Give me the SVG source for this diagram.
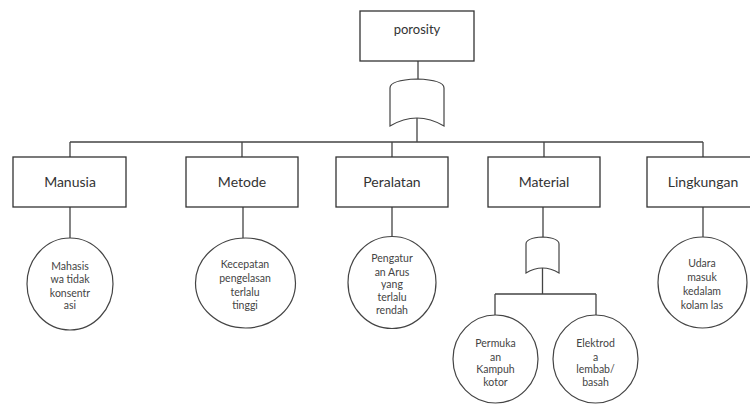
<svg xmlns="http://www.w3.org/2000/svg" width="750" height="405" viewBox="0 0 750 405">
<style>
.box{fill:#fff;stroke:#333;stroke-width:1.3}
.ell{fill:#fff;stroke:#444;stroke-width:1.2}
.gate{fill:#fff;stroke:#444;stroke-width:1.2}
.ln{fill:none;stroke:#444;stroke-width:1.3}
.lbl{font-family:Lato,"Open Sans",sans-serif;font-size:14px;fill:#333;text-anchor:middle}
.top{font-family:Lato,"Open Sans",sans-serif;font-size:13px;fill:#333;text-anchor:middle}
.sm{font-family:Lato,"Open Sans",sans-serif;font-size:10.5px;fill:#444;text-anchor:middle}
</style>
<rect width="750" height="405" fill="#fff"/>
<g id="connectors">
<path class="ln" d="M418,61 V79 M417,118 V142 M70,142 H703 M70,142 V157 M242,142 V157 M392,142 V157 M544,142 V157 M703,142 V157"/>
<path class="ln" d="M70,207 V238 M243,207 V238 M392,207 V237 M703,207 V237"/>
<path class="ln" d="M543,207 V237 M542.5,268 V294 M495,294 H596 M495,294 V315 M596,294 V315"/>
</g>
<g id="porosity"><rect class="box" x="360" y="11" width="114" height="50"/><text class="top" x="417" y="34">porosity</text></g>
<g id="gate-or-top"><path class="gate" d="M390,126 V88 Q390,80 417,79 Q444,80 444,88 V126 Q417,110 390,126 Z"/></g>
<g id="manusia"><rect class="box" x="13" y="157" width="113" height="50"/><text class="lbl" x="70" y="187">Manusia</text></g>
<g id="metode"><rect class="box" x="186" y="157" width="112" height="50"/><text class="lbl" x="242" y="187">Metode</text></g>
<g id="peralatan"><rect class="box" x="336" y="157" width="112" height="50"/><text class="lbl" x="392" y="187">Peralatan</text></g>
<g id="material"><rect class="box" x="488" y="157" width="112" height="50"/><text class="lbl" x="544" y="187">Material</text></g>
<g id="lingkungan"><rect class="box" x="647" y="157" width="113" height="50"/><text class="lbl" x="703" y="187">Lingkungan</text></g>
<g id="c-manusia"><ellipse class="ell" cx="70" cy="284" rx="43" ry="46"/>
<text class="sm" x="70" y="270">Mahasis</text><text class="sm" x="70" y="283">wa tidak</text><text class="sm" x="70" y="297">konsentr</text><text class="sm" x="70" y="309">asi</text></g>
<g id="c-metode"><ellipse class="ell" cx="245.5" cy="283" rx="50" ry="45"/>
<text class="sm" x="245" y="268">Kecepatan</text><text class="sm" x="245" y="282">pengelasan</text><text class="sm" x="245" y="296">terlalu</text><text class="sm" x="245" y="309">tinggi</text></g>
<g id="c-peralatan"><ellipse class="ell" cx="392" cy="282.5" rx="44" ry="46"/>
<text class="sm" x="392" y="262">Pengatur</text><text class="sm" x="392" y="276">an Arus</text><text class="sm" x="392" y="288">yang</text><text class="sm" x="392" y="301">terlalu</text><text class="sm" x="392" y="314">rendah</text></g>
<g id="c-lingkungan"><ellipse class="ell" cx="702.5" cy="282.5" rx="44.5" ry="45.5"/>
<text class="sm" x="702" y="267">Udara</text><text class="sm" x="702" y="281">masuk</text><text class="sm" x="702" y="295">kedalam</text><text class="sm" x="702" y="309">kolam las</text></g>
<g id="gate-or-material"><path class="gate" d="M526,273 V244 Q526,238 542.5,237 Q559,238 559,244 V273 Q542.5,263 526,273 Z"/></g>
<g id="c-permukaan"><ellipse class="ell" cx="495.5" cy="359" rx="42.5" ry="44"/>
<text class="sm" x="495.5" y="347">Permuka</text><text class="sm" x="495.5" y="361">an</text><text class="sm" x="495.5" y="373">Kampuh</text><text class="sm" x="495.5" y="386">kotor</text></g>
<g id="c-elektroda"><ellipse class="ell" cx="595.5" cy="359" rx="42.5" ry="44"/>
<text class="sm" x="595.5" y="347">Elektrod</text><text class="sm" x="595.5" y="361">a</text><text class="sm" x="595.5" y="373">lembab/</text><text class="sm" x="595.5" y="386">basah</text></g>
</svg>
